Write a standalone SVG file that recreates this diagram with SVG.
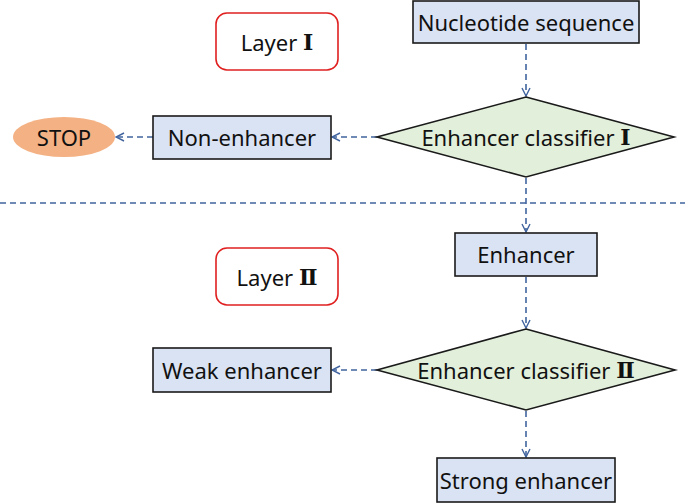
<svg xmlns="http://www.w3.org/2000/svg" width="685" height="503" viewBox="0 0 685 503">
<defs>
<style>
.box{fill:#DAE3F3;stroke:#1a1a1a;stroke-width:1.6}
.dia{fill:#E2EFDA;stroke:#1a1a1a;stroke-width:1.6}
.layer{fill:#fff;stroke:#E02020;stroke-width:1.6}
.t{font-family:"Noto Sans","Open Sans","Noto Sans CJK SC",sans-serif;font-size:22px;fill:#111;text-anchor:middle;dominant-baseline:central}
.n{font-family:"DejaVu Serif","Liberation Serif",serif;font-weight:bold}
.c{fill:none;stroke:#41649E;stroke-width:1.6;stroke-dasharray:6,4}
</style>
<marker id="ah" viewBox="0 0 10 10" refX="9" refY="5" markerWidth="10" markerHeight="10" markerUnits="userSpaceOnUse" orient="auto">
<path d="M1,1 L9,5 L1,9" fill="none" stroke="#41649E" stroke-width="1.4"/>
</marker>
</defs>
<rect width="685" height="503" fill="#fff"/>
<g id="connectors">
<line class="c" x1="0" y1="203" x2="685" y2="203"/>
<line class="c" x1="526" y1="44" x2="526" y2="96" marker-end="url(#ah)"/>
<line class="c" x1="377" y1="137" x2="332" y2="137" marker-end="url(#ah)"/>
<line class="c" x1="153" y1="137" x2="116" y2="137" marker-end="url(#ah)"/>
<line class="c" x1="526" y1="178" x2="526" y2="232" marker-end="url(#ah)"/>
<line class="c" x1="526" y1="277" x2="526" y2="328" marker-end="url(#ah)"/>
<line class="c" x1="377" y1="370" x2="332" y2="370" marker-end="url(#ah)"/>
<line class="c" x1="526" y1="411" x2="526" y2="457" marker-end="url(#ah)"/>
</g>
<g id="layer1">
<rect class="layer" x="216" y="13" width="122" height="57" rx="11"/>
<text class="t" x="277" y="42">Layer <tspan class="n">Ⅰ</tspan></text>
</g>
<g id="nucleotide">
<rect class="box" x="413" y="1" width="226" height="42"/>
<text class="t" x="526" y="22">Nucleotide sequence</text>
</g>
<g id="classifier1">
<polygon class="dia" points="526,97 674,137 526,177 377,137"/>
<text class="t" x="526" y="137">Enhancer classifier <tspan class="n">Ⅰ</tspan></text>
</g>
<g id="nonenhancer">
<rect class="box" x="153" y="116" width="178" height="43"/>
<text class="t" x="242" y="137">Non-enhancer</text>
</g>
<g id="stop">
<ellipse cx="64" cy="137" rx="51" ry="20" fill="#F4B183"/>
<text class="t" x="64" y="137">STOP</text>
</g>
<g id="layer2">
<rect class="layer" x="216" y="248" width="122" height="57" rx="11"/>
<text class="t" x="277" y="277">Layer <tspan class="n">Ⅱ</tspan></text>
</g>
<g id="enhancer">
<rect class="box" x="455" y="233" width="142" height="43"/>
<text class="t" x="526" y="254">Enhancer</text>
</g>
<g id="classifier2">
<polygon class="dia" points="526,329 675,370 526,410 377,370"/>
<text class="t" x="526" y="370">Enhancer classifier <tspan class="n">Ⅱ</tspan></text>
</g>
<g id="weak">
<rect class="box" x="153" y="348" width="178" height="44"/>
<text class="t" x="242" y="370">Weak enhancer</text>
</g>
<g id="strong">
<rect class="box" x="437" y="458" width="178" height="44"/>
<text class="t" x="526" y="480">Strong enhancer</text>
</g>
</svg>
